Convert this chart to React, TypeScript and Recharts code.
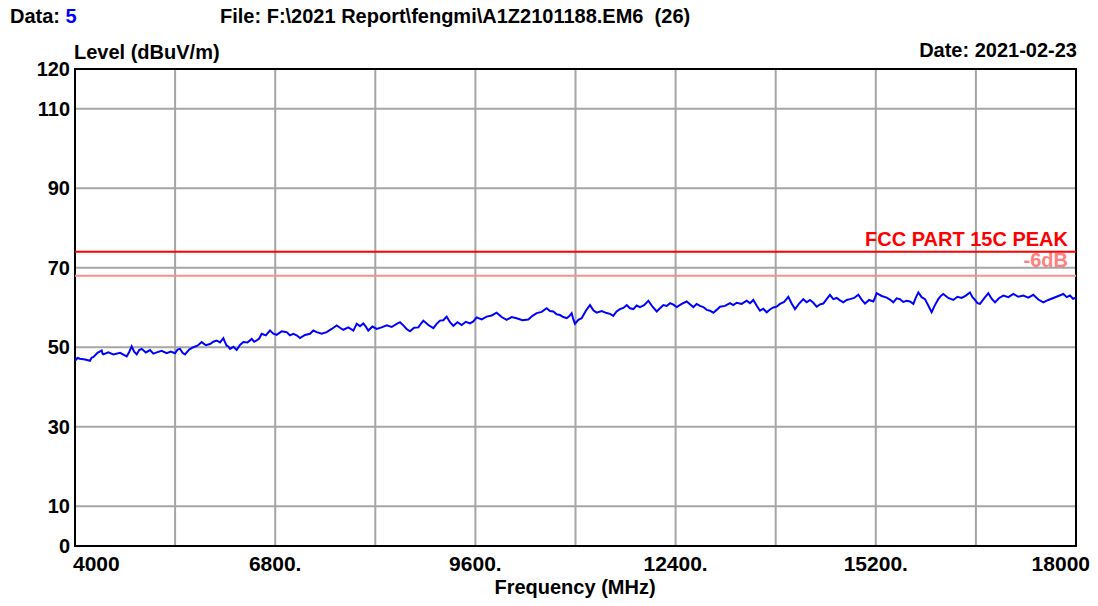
import React from 'react';
import {
  LineChart,
  Line,
  XAxis,
  YAxis,
  CartesianGrid,
  ReferenceLine,
  ReferenceArea,
} from 'recharts';

// Measured sweep: frequency (MHz)
const freqMHz = [
  4000, 4035, 4070, 4140, 4210, 4233, 4256, 4315, 4373, 4385, 4396, 4466, 4536, 4630, 4723,
  4758, 4793, 4828, 4863, 4898, 4933, 4991, 5049, 5096, 5143, 5212, 5282, 5340, 5399, 5434,
  5469, 5504, 5538, 5597, 5655, 5713, 5772, 5830, 5888, 5935, 5981, 6028, 6075, 6098, 6121,
  6145, 6168, 6215, 6261, 6308, 6354, 6412, 6471, 6506, 6541, 6576, 6611, 6669, 6727, 6774,
  6820, 6890, 6960, 7006, 7053, 7100, 7147, 7217, 7287, 7333, 7380, 7450, 7520, 7590, 7660,
  7706, 7753, 7823, 7893, 7916, 7940, 7986, 8032, 8067, 8102, 8160, 8219, 8289, 8359, 8429,
  8499, 8545, 8592, 8638, 8685, 8743, 8802, 8837, 8872, 8942, 9012, 9058, 9105, 9151, 9198,
  9245, 9291, 9350, 9408, 9466, 9524, 9571, 9618, 9688, 9758, 9828, 9897, 9967, 10037, 10107,
  10177, 10258, 10340, 10398, 10457, 10527, 10597, 10643, 10690, 10736, 10783, 10830, 10877,
  10911, 10946, 10970, 10993, 11040, 11086, 11145, 11203, 11250, 11296, 11366, 11436, 11483,
  11529, 11575, 11622, 11669, 11716, 11762, 11809, 11855, 11902, 11960, 12019, 12078, 12136,
  12182, 12229, 12275, 12322, 12369, 12416, 12485, 12555, 12601, 12648, 12694, 12741, 12788,
  12835, 12881, 12928, 12974, 13021, 13091, 13161, 13207, 13254, 13324, 13394, 13440, 13487,
  13533, 13580, 13627, 13674, 13720, 13767, 13813, 13860, 13918, 13977, 14023, 14070, 14128,
  14186, 14233, 14280, 14326, 14373, 14419, 14466, 14512, 14559, 14606, 14653, 14700, 14746,
  14792, 14839, 14897, 14956, 15002, 15049, 15107, 15165, 15188, 15212, 15282, 15352, 15398,
  15445, 15491, 15538, 15585, 15632, 15678, 15725, 15760, 15795, 15841, 15888, 15934, 15981,
  16027, 16074, 16109, 16144, 16214, 16284, 16342, 16401, 16459, 16517, 16552, 16587, 16622,
  16657, 16715, 16774, 16820, 16867, 16925, 16984, 17054, 17124, 17193, 17263, 17333, 17403,
  17473, 17543, 17613, 17683, 17753, 17823, 17870, 17916, 17958, 18000,
];

// Measured sweep: level (dBuV/m)
const levelDb = [
  46.6, 47.3, 47.1, 46.9, 46.6, 47.4, 47.5, 48.6, 49.2, 48.4, 48.2, 48.7, 48.2, 48.6, 47.7,
  48.8, 50.2, 48.9, 48.2, 49.3, 49.6, 48.7, 49.3, 48.4, 48.7, 49.1, 48.5, 48.9, 48.5, 49.4,
  49.6, 48.6, 48.2, 49.4, 50.0, 50.4, 51.3, 50.5, 50.8, 51.4, 51.7, 51.2, 52.3, 51.3, 50.4,
  50.2, 49.6, 50.1, 49.3, 50.6, 51.3, 51.2, 52.1, 51.4, 51.7, 52.2, 53.4, 53.0, 54.2, 53.4,
  53.1, 54.0, 53.8, 53.0, 53.4, 53.0, 52.3, 53.1, 53.4, 54.2, 53.8, 53.4, 53.8, 54.6, 55.5,
  54.9, 54.4, 55.0, 54.2, 55.0, 55.9, 55.3, 56.0, 55.2, 54.2, 55.2, 54.6, 55.0, 55.5, 55.1,
  55.9, 56.3, 55.5, 54.6, 54.0, 54.9, 55.0, 55.9, 56.7, 55.6, 54.8, 55.9, 56.7, 56.8, 57.7,
  56.3, 55.4, 56.3, 55.6, 56.4, 56.0, 56.5, 57.5, 57.0, 57.7, 58.0, 58.7, 57.6, 56.9, 57.6,
  57.3, 56.8, 57.0, 57.9, 58.6, 58.9, 59.8, 59.1, 59.0, 58.3, 58.1, 57.6, 57.3,
  57.8, 58.6, 57.0, 55.9, 56.9, 57.3, 59.2, 60.6, 59.3, 58.7, 59.1, 58.6, 58.4,
  57.9, 59.0, 59.6, 59.9, 60.6, 59.8, 59.6, 60.5, 60.1, 60.6, 61.7, 60.2, 59.0,
  59.8, 60.6, 60.4, 61.1, 60.7, 60.1, 60.9, 61.5, 60.8, 60.1, 60.9, 60.4, 60.1,
  59.4, 59.2, 58.7, 59.4, 60.2, 60.4, 61.1, 60.6, 61.2, 60.9, 61.7, 61.1, 61.9,
  60.5, 59.2, 59.7, 58.8, 59.5, 60.0, 60.2, 60.9, 61.4, 62.7, 61.0, 59.6, 61.0,
  62.1, 61.3, 61.9, 61.2, 60.2, 60.8, 61.0, 62.1, 63.2, 62.1, 62.4, 61.8, 61.3,
  61.9, 62.1, 62.4, 63.2, 62.0, 61.0, 61.9, 61.5, 62.4, 63.6, 62.9, 62.5, 62.0,
  61.3, 62.3, 62.1, 61.4, 61.7, 61.5, 60.9, 62.5, 63.8, 62.6, 62.1, 60.5, 58.8,
  60.6, 62.1, 62.9, 63.4, 62.4, 61.9, 62.7, 62.4, 63.0, 63.8, 62.6, 61.9, 61.1,
  60.9, 62.3, 63.6, 62.2, 61.3, 62.4, 63.0, 62.6, 63.4, 62.7, 63.0, 62.5, 63.2,
  62.0, 61.3, 61.9, 62.4, 62.9, 63.4, 62.6, 63.0, 62.2, 62.5,
];

const xTicks = [4000, 5400, 6800, 8200, 9600, 11000, 12400, 13800, 15200, 16600, 18000];
const xTickLabels = ['4000', '', '6800.', '', '9600.', '', '12400.', '', '15200.', '', '18000'];
const yTicks = [0, 10, 30, 50, 70, 90, 110, 120];

const limitPeak = 74;
const limitMargin = 68;
const limitPeakName = 'FCC PART 15C PEAK';
const limitMarginName = '-6dB';

const data = freqMHz.map((f, i) => ({ f, level: levelDb[i] }));

const FONT = '"Liberation Sans", Arial, sans-serif';

const XTick = (props: any) => {
  const { x, y, payload, index } = props;
  const i = typeof index === 'number' ? index : xTicks.indexOf(payload.value);
  const label = xTickLabels[i] || '';
  if (!label) return null;
  let anchor: 'start' | 'middle' | 'end' = 'middle';
  let dx = 0;
  if (i === 0) {
    anchor = 'start';
    dx = -2;
  } else if (i === xTicks.length - 1) {
    anchor = 'end';
    dx = 14;
  }
  return (
    <text
      x={x + dx}
      y={y}
      dy="0.71em"
      textAnchor={anchor}
      fontFamily={FONT}
      fontWeight="bold"
      fontSize={21}
      fill="#000"
    >
      {label}
    </text>
  );
};

const YTick = (props: any) => {
  const { x, y, payload } = props;
  return (
    <text
      x={x}
      y={y}
      dy="0.36em"
      textAnchor="end"
      fontFamily={FONT}
      fontWeight="bold"
      fontSize={20}
      fill="#000"
    >
      {payload.value}
    </text>
  );
};

const limitLabel = (text: string, color: string, size: number, weight: string, lift: number) =>
  (props: any) => {
    const vb = props.viewBox || {};
    return (
      <text
        x={vb.x + vb.width - 8}
        y={vb.y - lift}
        textAnchor="end"
        fontFamily={FONT}
        fontWeight={weight}
        fontSize={size}
        fill={color}
      >
        {text}
      </text>
    );
  };

export default function App() {
  return (
    <div
      style={{
        position: 'absolute',
        left: 0,
        top: 0,
        width: 1098,
        height: 606,
        background: '#fff',
      }}
    >
      <LineChart
        width={1098}
        height={606}
        data={data}
        margin={{ top: 69, right: 22, bottom: 30, left: 0 }}
      >
        <CartesianGrid
          stroke="#a6a6a6"
          strokeWidth={2}
          horizontalValues={yTicks}
          verticalValues={xTicks}
        />
        <XAxis
          dataKey="f"
          type="number"
          domain={[4000, 18000]}
          ticks={xTicks}
          interval={0}
          axisLine={false}
          tickLine={false}
          tickSize={0}
          tickMargin={10}
          height={30}
          tick={<XTick />}
          allowDataOverflow
        />
        <YAxis
          type="number"
          domain={[0, 120]}
          ticks={yTicks}
          interval={0}
          axisLine={false}
          tickLine={false}
          tickSize={0}
          tickMargin={5}
          width={75}
          tick={<YTick />}
          allowDataOverflow
        />
        <ReferenceLine
          y={limitMargin}
          stroke="#ff8c8c"
          strokeWidth={2}
          label={limitLabel(limitMarginName, '#ff8080', 20, 'bold', 9)}
        />
        <ReferenceLine
          y={limitPeak}
          stroke="#ff0000"
          strokeWidth={2}
          label={limitLabel(limitPeakName, '#ff0000', 20, 'bold', 6)}
        />
        <Line
          type="linear"
          dataKey="level"
          stroke="#0000ff"
          strokeWidth={2}
          dot={false}
          isAnimationActive={false}
        />
        <ReferenceArea
          x1={4000}
          x2={18000}
          y1={0}
          y2={120}
          fill="none"
          fillOpacity={0}
          stroke="#000"
          strokeWidth={2}
        />
      </LineChart>
      <svg
        width={1098}
        height={606}
        style={{ position: 'absolute', left: 0, top: 0, pointerEvents: 'none' }}
      >
        <g fontFamily={FONT} fontWeight="bold" fontSize={20} fill="#000">
          <text x={10} y={23}>
            Data: <tspan fill="#0000ff">5</tspan>
          </text>
          <text x={220} y={23} style={{ whiteSpace: 'pre' }}>
            {'File: F:\\2021 Report\\fengmi\\A1Z2101188.EM6  (26)'}
          </text>
          <text x={74} y={59}>
            Level (dBuV/m)
          </text>
          <text x={1077} y={57} textAnchor="end">
            Date: 2021-02-23
          </text>
          <text x={575} y={594} textAnchor="middle">
            Frequency (MHz)
          </text>
        </g>
      </svg>
    </div>
  );
}
